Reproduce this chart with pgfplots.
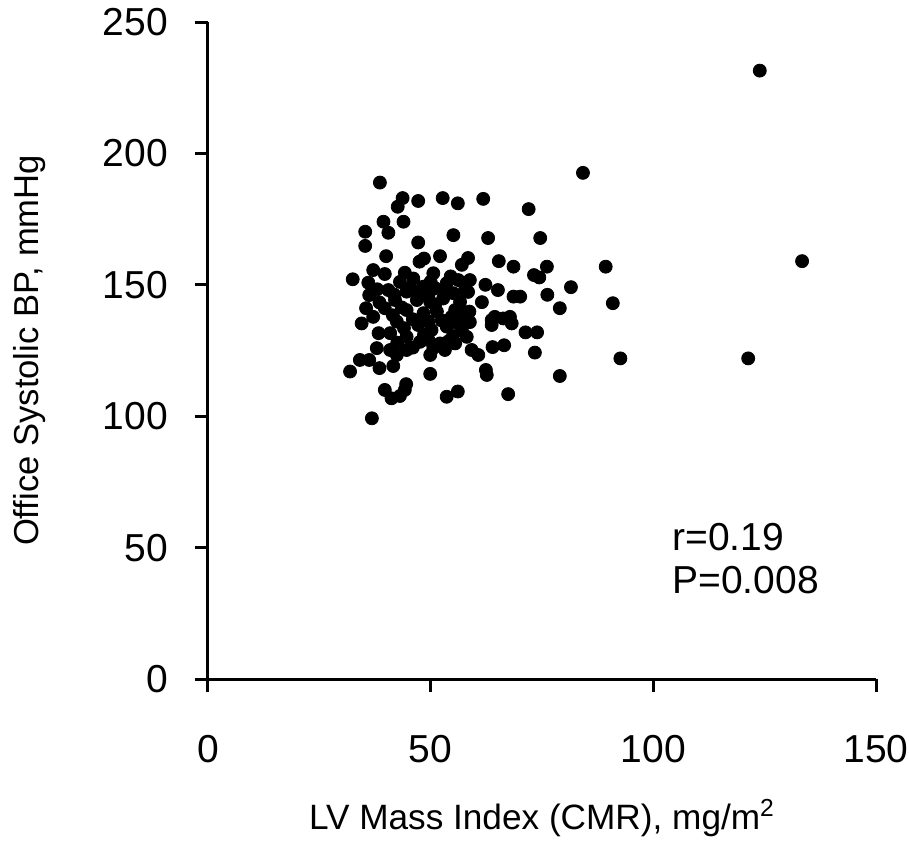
\documentclass[border=0pt]{standalone}
\usepackage{fontspec}
\setmainfont{Liberation Sans}
\usepackage{pgfplots}
\pgfplotsset{compat=1.18}
\begin{document}
\begin{tikzpicture}
\useasboundingbox (-104pt,-81.5pt) rectangle (350.5pt,339.5pt);
\begin{axis}[
  scale only axis, width=334pt, height=328.5pt,
  xmin=0, xmax=150, ymin=0, ymax=250,
  axis x line=bottom, axis y line=left,
  axis line style={-, line width=1.5pt, black},
  xtick={0,50,100,150}, ytick={0,50,100,150,200,250},
  tick align=outside, major tick length=6.5pt,
  tick style={line width=1.5pt, black},
  /pgf/number format/assume math mode=true,
  ticklabel style={font=\fontsize{19.5}{23}\selectfont},
  every x tick label/.append style={yshift=-18pt},
  every y tick label/.append style={xshift=-10pt},
  every axis x label/.style={at={(axis description cs:0.5,-0.2116)}, anchor=center, font=\fontsize{17.6}{21}\selectfont},
  every axis y label/.style={at={(axis description cs:-0.2665,0.5)}, anchor=center, rotate=90, font=\fontsize{17.3}{21}\selectfont},
  xlabel={LV Mass Index (CMR), mg/m\textsuperscript{2}},
  ylabel={Office Systolic BP, mmHg},
  clip=false,
]
\addplot[only marks, mark=*, mark size=3.25pt, black, mark options={fill=black}] coordinates {
(123.9,231.5) (84.2,192.6) (89.3,156.9) (90.9,143.0) (92.6,122.0) (133.4,159.0) (121.3,122.0)
(38.6,188.9) (43.7,183.0) (42.6,179.7) (47.2,181.9) (52.7,183.0) (56.1,181.0) (39.4,174.0)
(40.5,169.8) (43.9,174.0) (35.3,170.2) (35.3,164.8) (47.2,166.1) (55.1,168.9) (40.0,160.9)
(48.5,160.0) (47.5,158.8) (52.1,160.9) (57.0,157.6) (32.5,152.1) (37.1,155.6) (36.0,150.8)
(39.7,154.1) (44.2,154.6) (36.2,146.1) (50.6,154.4)
(61.8,182.7) (72.0,178.8) (62.9,167.8) (74.6,167.8) (65.3,159.0) (68.6,156.9) (76.1,156.9)
(73.2,153.7) (74.4,152.8) (81.5,149.1) (62.3,150.0) (65.1,148.0) (76.2,146.2) (68.6,145.5)
(70.1,145.5) (61.5,143.4) (79.0,141.1) (58.7,139.8) (63.7,136.6) (64.4,137.8) (67.8,137.8)
(68.2,135.3) (66.3,137.2) (71.3,131.9) (73.9,131.9) (63.9,126.3) (66.5,127.0) (73.4,124.2)
(59.2,125.2) (60.7,123.3) (62.4,117.6) (62.6,115.7) (79.0,115.3) (67.4,108.4) (63.7,134.7)
(58.4,160.2) (58.8,151.8) (58.4,147.3) (58.8,135.8)
(35.5,141.1) (37.1,137.8) (34.5,135.3) (38.3,131.6) (37.9,125.9) (34.1,121.4) (36.2,121.4)
(31.9,117.0) (38.5,118.3) (41.6,119.1) (39.7,110.0) (41.2,106.8) (43.1,107.7) (44.5,112.2)
(44.2,110.0) (36.8,99.2) (49.9,116.1) (53.6,107.4) (56.1,109.4) (40.9,125.2) (42.4,123.3)
(44.6,125.2) (49.9,123.3) (53.2,125.2)
(46.1,152.4) (43.1,151.1) (53.6,150.6) (56.2,151.8) (48.4,149.3) (51.0,148.7) (40.5,148.0)
(44.6,147.4) (55.1,146.8) (57.7,148.0) (42.0,144.2) (46.9,144.2) (49.9,143.5) (52.8,144.8)
(56.6,143.5) (39.7,141.1) (44.6,140.4) (48.4,139.2) (51.4,139.8) (54.7,137.8) (57.3,139.2)
(42.4,136.0) (47.2,134.7) (50.2,132.8) (53.6,134.1) (57.0,132.8) (40.9,131.6) (44.6,130.2)
(47.6,128.3) (52.1,127.7) (55.5,127.7) (50.6,125.9) (49.5,129.0) (49.5,146.1) (58.1,130.2)
(45.5,148.8) (50.0,151.2) (54.5,153.2) (41.8,146.3) (47.5,145.8) (53.0,147.3) (43.5,141.4)
(51.0,142.4) (55.5,140.4) (41.5,138.4) (46.0,136.9) (49.5,136.0) (52.5,136.4) (56.0,135.4)
(44.0,133.5) (48.5,131.0) (55.0,130.5) (42.5,128.0) (46.0,126.1) (54.0,128.5) (38.5,143.3)
(38.0,148.3)
};
\node[anchor=west, inner sep=0pt, font=\fontsize{19.5}{23}\selectfont] at (axis cs:104.2,54.0) {r=0.19};
\node[anchor=west, inner sep=0pt, font=\fontsize{19.5}{23}\selectfont] at (axis cs:104.2,37.7) {P=0.008};
\end{axis}
\end{tikzpicture}
\end{document}
